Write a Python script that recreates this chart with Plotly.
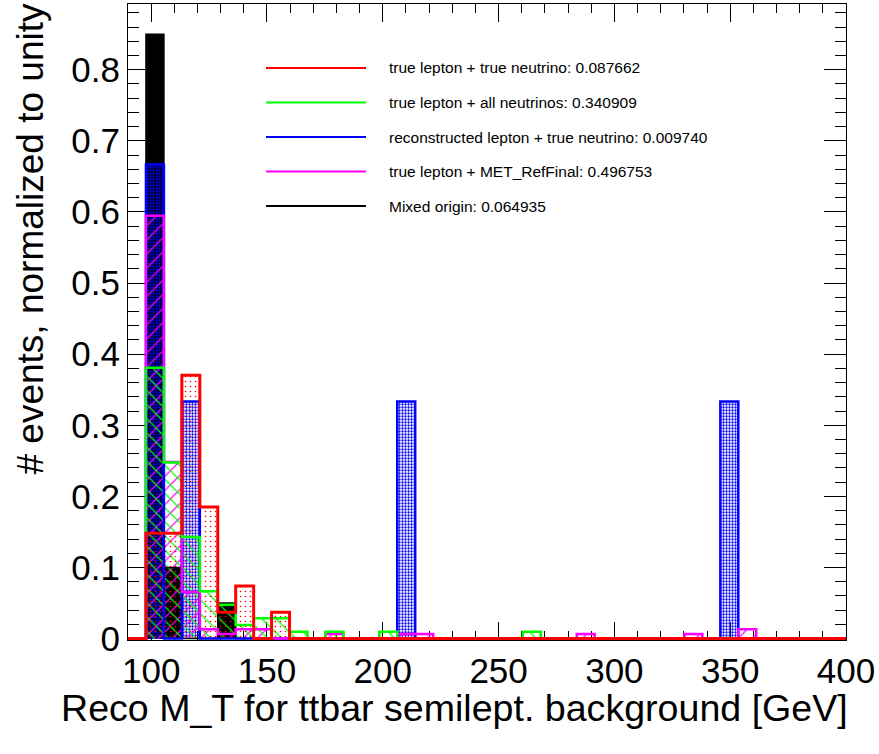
import plotly.graph_objects as go

# ---------------- data ----------------
x_min, x_max, n_bins = 90.0, 400.0, 40

series_names = [
    "true lepton + true neutrino: 0.087662",
    "true lepton + all neutrinos: 0.340909",
    "reconstructed lepton + true neutrino: 0.009740",
    "true lepton + MET_RefFinal: 0.496753",
    "Mixed origin: 0.064935",
]

red = [0, 0.1481, 0.1481, 0.3704, 0.1852, 0.0370, 0.0741, 0, 0.0370, 0,
       0, 0, 0, 0, 0, 0, 0, 0, 0, 0,
       0, 0, 0, 0, 0, 0, 0, 0, 0, 0,
       0, 0, 0, 0, 0, 0, 0, 0, 0, 0]
green = [0, 0.3810, 0.2476, 0.1429, 0.0667, 0.0476, 0.0190, 0.0286, 0.0286, 0.0095,
         0, 0.0095, 0, 0, 0.0095, 0, 0, 0, 0, 0,
         0, 0, 0.0095, 0, 0, 0, 0, 0, 0, 0,
         0, 0, 0, 0, 0, 0, 0, 0, 0, 0]
blue = [0, 0.6667, 0, 0.3333, 0, 0, 0, 0, 0, 0,
        0, 0, 0, 0, 0, 0.3333, 0, 0, 0, 0,
        0, 0, 0, 0, 0, 0, 0, 0, 0, 0,
        0, 0, 0, 0.3333, 0, 0, 0, 0, 0, 0]
magenta = [0, 0.5948, 0.2484, 0.0654, 0.0131, 0.0065, 0.0131, 0.0131, 0, 0,
           0, 0.0065, 0, 0, 0, 0.0065, 0.0065, 0, 0, 0,
           0, 0, 0, 0, 0, 0.0065, 0, 0, 0, 0,
           0, 0.0065, 0, 0, 0.0131, 0, 0, 0, 0, 0]
black = [0, 0.85, 0.10, 0, 0, 0.05, 0, 0, 0, 0,
         0, 0, 0, 0, 0, 0, 0, 0, 0, 0,
         0, 0, 0, 0, 0, 0, 0, 0, 0, 0,
         0, 0, 0, 0, 0, 0, 0, 0, 0, 0]

x_ticks = [100, 150, 200, 250, 300, 350, 400]
y_ticks = [0, 0.1, 0.2, 0.3, 0.4, 0.5, 0.6, 0.7, 0.8]
y_tick_text = ["0", "0.1", "0.2", "0.3", "0.4", "0.5", "0.6", "0.7", "0.8"]

x_title = "Reco M_T for ttbar semilept. background [GeV]"
y_title = "# events, normalized to unity"

# ---------------- derived bin geometry ----------------
bin_width = (x_max - x_min) / n_bins
edges = [x_min + bin_width * i for i in range(n_bins + 1)]
centers = [(edges[i] + edges[i + 1]) / 2 for i in range(n_bins)]

FONT = "Liberation Sans, Arial, Helvetica, sans-serif"

styles = {
    "red": dict(color="#ff0000", shape=".", size=5, solidity=0.08, lw=3),
    "green": dict(color="#00ff00", shape="\\", size=10, solidity=0.12, lw=2.5),
    "blue": dict(color="#0000ff", shape=".", size=3, solidity=0.45, lw=2.5),
    "magenta": dict(color="#ff00ff", shape="/", size=10, solidity=0.12, lw=2.5),
    "black": dict(color="#000000", shape="", size=8, solidity=1.0, lw=1.5),
}
data = {"red": red, "green": green, "blue": blue, "magenta": magenta, "black": black}
draw_order = ["black", "blue", "magenta", "green", "red"]
legend_order = ["red", "green", "blue", "magenta", "black"]

fig = go.Figure()

for key in draw_order:
    st = styles[key]
    if key == "black":
        marker = dict(color=st["color"], line=dict(width=0))
    else:
        marker = dict(color=st["color"], line=dict(width=0),
                      pattern=dict(shape=st["shape"], size=st["size"],
                                   solidity=st["solidity"], fgcolor=st["color"],
                                   fillmode="replace"))
    fig.add_trace(go.Bar(x=centers, y=data[key], width=bin_width, marker=marker,
                         showlegend=False, hoverinfo="skip"))

for key in draw_order:
    st = styles[key]
    vals = data[key]
    fig.add_trace(go.Scatter(x=edges, y=list(vals) + [vals[-1]], mode="lines",
                             line=dict(color=st["color"], width=st["lw"], shape="hv"),
                             showlegend=False, hoverinfo="skip"))

# ---------------- layout ----------------
W, H = 879, 754
L, R, T, B = 128, 33, 4, 114
plot_w = W - L - R
plot_h = H - T - B

def px_to_paper_x(px):
    return (px - L) / plot_w

def px_to_paper_y(py):
    return (H - B - py) / plot_h

axis_common = dict(
    showline=True, linecolor="black", linewidth=1, mirror="ticks",
    ticks="inside", tickcolor="black", tickwidth=1,
    showgrid=False, zeroline=False,
    tickfont=dict(family=FONT, size=35, color="black"),
)

fig.update_layout(
    width=W, height=H,
    margin=dict(l=L, r=R, t=T, b=B, pad=0),
    paper_bgcolor="white", plot_bgcolor="white",
    barmode="overlay", bargap=0,
    showlegend=False,
    xaxis=dict(range=[x_min, x_max], tickvals=x_ticks, ticklen=18,
               minor=dict(ticks="inside", ticklen=9, dtick=10, tick0=100,
                          tickcolor="black", tickwidth=1, showgrid=False),
               layer="below traces", **axis_common),
    yaxis=dict(range=[-0.002, 0.8925], tickvals=y_ticks, ticktext=y_tick_text,
               ticklen=22,
               minor=dict(ticks="inside", ticklen=11, dtick=0.02, tick0=0,
                          tickcolor="black", tickwidth=1, showgrid=False),
               layer="below traces", **axis_common),
)

# axis titles (ROOT style: right/top aligned)
fig.add_annotation(text=x_title, xref="paper", yref="paper",
                   x=px_to_paper_x(850), y=px_to_paper_y(708),
                   xanchor="right", yanchor="middle", showarrow=False,
                   font=dict(family=FONT, size=37.6, color="black"))
fig.add_annotation(text=y_title, xref="paper", yref="paper",
                   x=px_to_paper_x(30), y=px_to_paper_y(2),
                   xanchor="center", yanchor="top", textangle=-90, showarrow=False,
                   font=dict(family=FONT, size=37, color="black"))

# legend drawn ROOT-style
leg_line_x0, leg_line_x1, leg_text_x = 266, 366, 387
leg_top, leg_step = 68, 34.5
for k, key in enumerate(legend_order):
    py = leg_top + k * leg_step
    fig.add_shape(type="line", xref="paper", yref="paper",
                  x0=px_to_paper_x(leg_line_x0), x1=px_to_paper_x(leg_line_x1),
                  y0=px_to_paper_y(py), y1=px_to_paper_y(py),
                  line=dict(color=styles[key]["color"], width=2))
    fig.add_annotation(text=series_names[k], xref="paper", yref="paper",
                       x=px_to_paper_x(leg_text_x), y=px_to_paper_y(py),
                       xanchor="left", yanchor="middle", showarrow=False,
                       font=dict(family=FONT, size=15.5, color="black"))

fig.write_html("out.html")
